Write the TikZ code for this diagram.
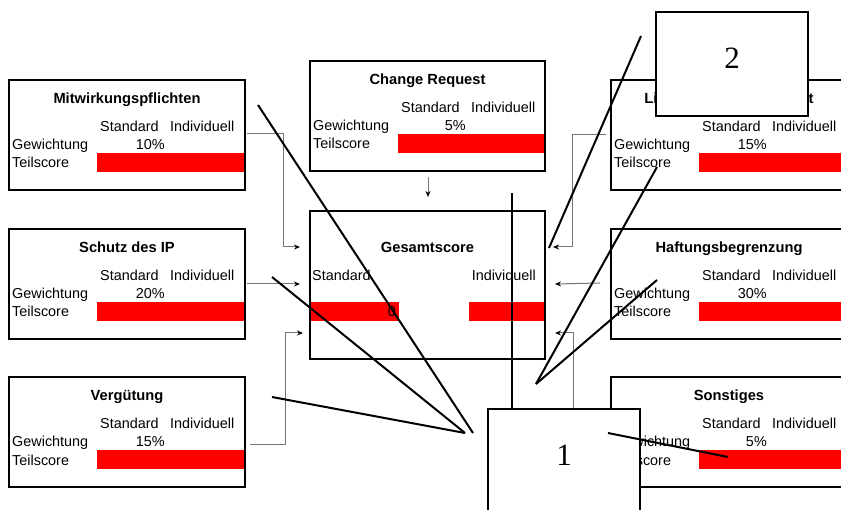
\documentclass[tikz,border=0pt]{standalone}
\usepackage{fontspec}
\setmainfont{Liberation Sans}
\newfontfamily\calloutfont{Liberation Serif}
\usetikzlibrary{arrows.meta}

\definecolor{barred}{RGB}{255,0,0}
\definecolor{linkgray}{RGB}{118,118,118}

\tikzset{
  panel/.style={draw=black, line width=2.2pt, inner sep=0pt, outer sep=0pt,
    anchor=north west, minimum height=110pt},
  headtext/.style={inner sep=0pt, anchor=base, font=\fontsize{14.7}{17}\selectfont\bfseries},
  celltext/.style={inner sep=0pt, font=\fontsize{14.4}{17}\selectfont},
  link/.style={draw=linkgray, line width=1pt,
    -{Stealth[length=6pt, width=5pt, color=black]}},
  leader/.style={draw=black, line width=2pt},
  calloutbox/.style={draw=black, fill=white, line width=2pt, inner sep=0pt,
    outer sep=0pt, anchor=north west, minimum width=152pt},
  callouttext/.style={inner sep=0pt, anchor=base, font=\calloutfont\fontsize{31}{34}\selectfont},
}

% one score panel: name, left x, top y, width, title, weight
\newcommand\scorepanel[6]{%
  \fill[barred] (#2+88,#3+73) rectangle (#2+#4,#3+92);
  \node[panel, minimum width=#4pt] (#1) at (#2,#3) {};
  \node[headtext] (#1-title) at (#2+#4/2,#3+24) {#5};
  \node[celltext, anchor=base west] (#1-std) at (#2+91,#3+52) {Standard};
  \node[celltext, anchor=base west] (#1-ind) at (#2+161,#3+52) {Individuell};
  \node[celltext, anchor=base west] (#1-wlabel) at (#2+3,#3+70) {Gewichtung};
  \node[celltext, anchor=base east] (#1-weight) at (#2+156,#3+70) {#6};
  \node[celltext, anchor=base west] (#1-slabel) at (#2+3,#3+88) {Teilscore};
}

\begin{document}
\begin{tikzpicture}[x=1pt, y=-1pt]
\useasboundingbox (0,0) rectangle (841,510);

% score panels
\scorepanel{mw}{9}{80}{236}{Mitwirkungspflichten}{10\%}
\scorepanel{cr}{310}{61}{235}{Change Request}{5\%}
\scorepanel{lz}{611}{80}{236}{Lizenzen/Nutzungsrecht}{15\%}
\scorepanel{ip}{9}{229}{236}{Schutz des IP}{20\%}
\scorepanel{hb}{611}{229}{236}{Haftungsbegrenzung}{30\%}
\scorepanel{vg}{9}{377}{236}{Vergütung}{15\%}
\scorepanel{so}{611}{377}{236}{Sonstiges}{5\%}

% total score panel
\fill[barred] (310,302) rectangle (399,321);
\fill[barred] (469,302) rectangle (545,321);
\node[panel, minimum width=235pt, minimum height=148pt] (gs) at (310,211) {};
\node[headtext] (gs-title) at (427.5,253) {Gesamtscore};
\node[celltext, anchor=base west] (gs-std) at (312,281) {Standard};
\node[celltext, anchor=base east] (gs-ind) at (536,281) {Individuell};
\node[celltext, anchor=base east] (gs-value) at (396,317) {0};

% links from the partial scores into the total
\draw[link] ([shift={(2,-1)}]mw.east) -| ([shift={(-27,-38)}]gs.west) -- ([shift={(-10,-38)}]gs.west);
\draw[link] ([shift={(2,0)}]ip.east) -- ([shift={(-10,-1)}]gs.west);
\draw[link] ([shift={(5,13)}]vg.east) -| ([shift={(-25,48)}]gs.west) -- ([shift={(-7,48)}]gs.west);
\draw[link] ([shift={(0.5,6)}]cr.south) -- ([shift={(0.5,-14)}]gs.north);
\draw[link] ([shift={(-5,0)}]lz.west) -| ([shift={(27,-38)}]gs.east) -- ([shift={(8,-38)}]gs.east);
\draw[link] ([shift={(-11,-1)}]hb.west) -- ([shift={(10,-1)}]gs.east);
\draw[link] ([shift={(-6,13)}]so.west) -| ([shift={(28,48)}]gs.east) -- ([shift={(10,48)}]gs.east);

% callout leader lines
\coordinate (ka) at (258,105);
\coordinate (kb) at (272,277);
\coordinate (kc) at (272,397);
\coordinate (ktip) at (473,433);
\coordinate (ktip2) at (465,433);
\coordinate (kv1) at (512,193);
\coordinate (kv2) at (512,409);
\coordinate (kr) at (536,384);
\coordinate (kr1) at (657,167);
\coordinate (kr2) at (657,280);
\coordinate (ks1) at (549,248);
\coordinate (ks2) at (641,36);
\coordinate (kw1) at (608,433);
\coordinate (kw2) at (728,457);

\draw[leader] (ka) -- (ktip);
\draw[leader] (kb) -- (ktip2);
\draw[leader] (kc) -- (ktip2);
\draw[leader] (kv1) -- (kv2);
\draw[leader] (kr) -- (kr1);
\draw[leader] (kr) -- (kr2);
\draw[leader] (ks1) -- (ks2);

% callout boxes
\node[calloutbox, minimum height=104pt] (box2) at (656,12) {};
\node[callouttext] (box2-label) at (732,69) {2};
\node[calloutbox, minimum height=160pt] (box1) at (488,409) {};
\node[callouttext] (box1-label) at (564,466) {1};

\draw[leader] (kw1) -- (kw2);
\end{tikzpicture}
\end{document}
